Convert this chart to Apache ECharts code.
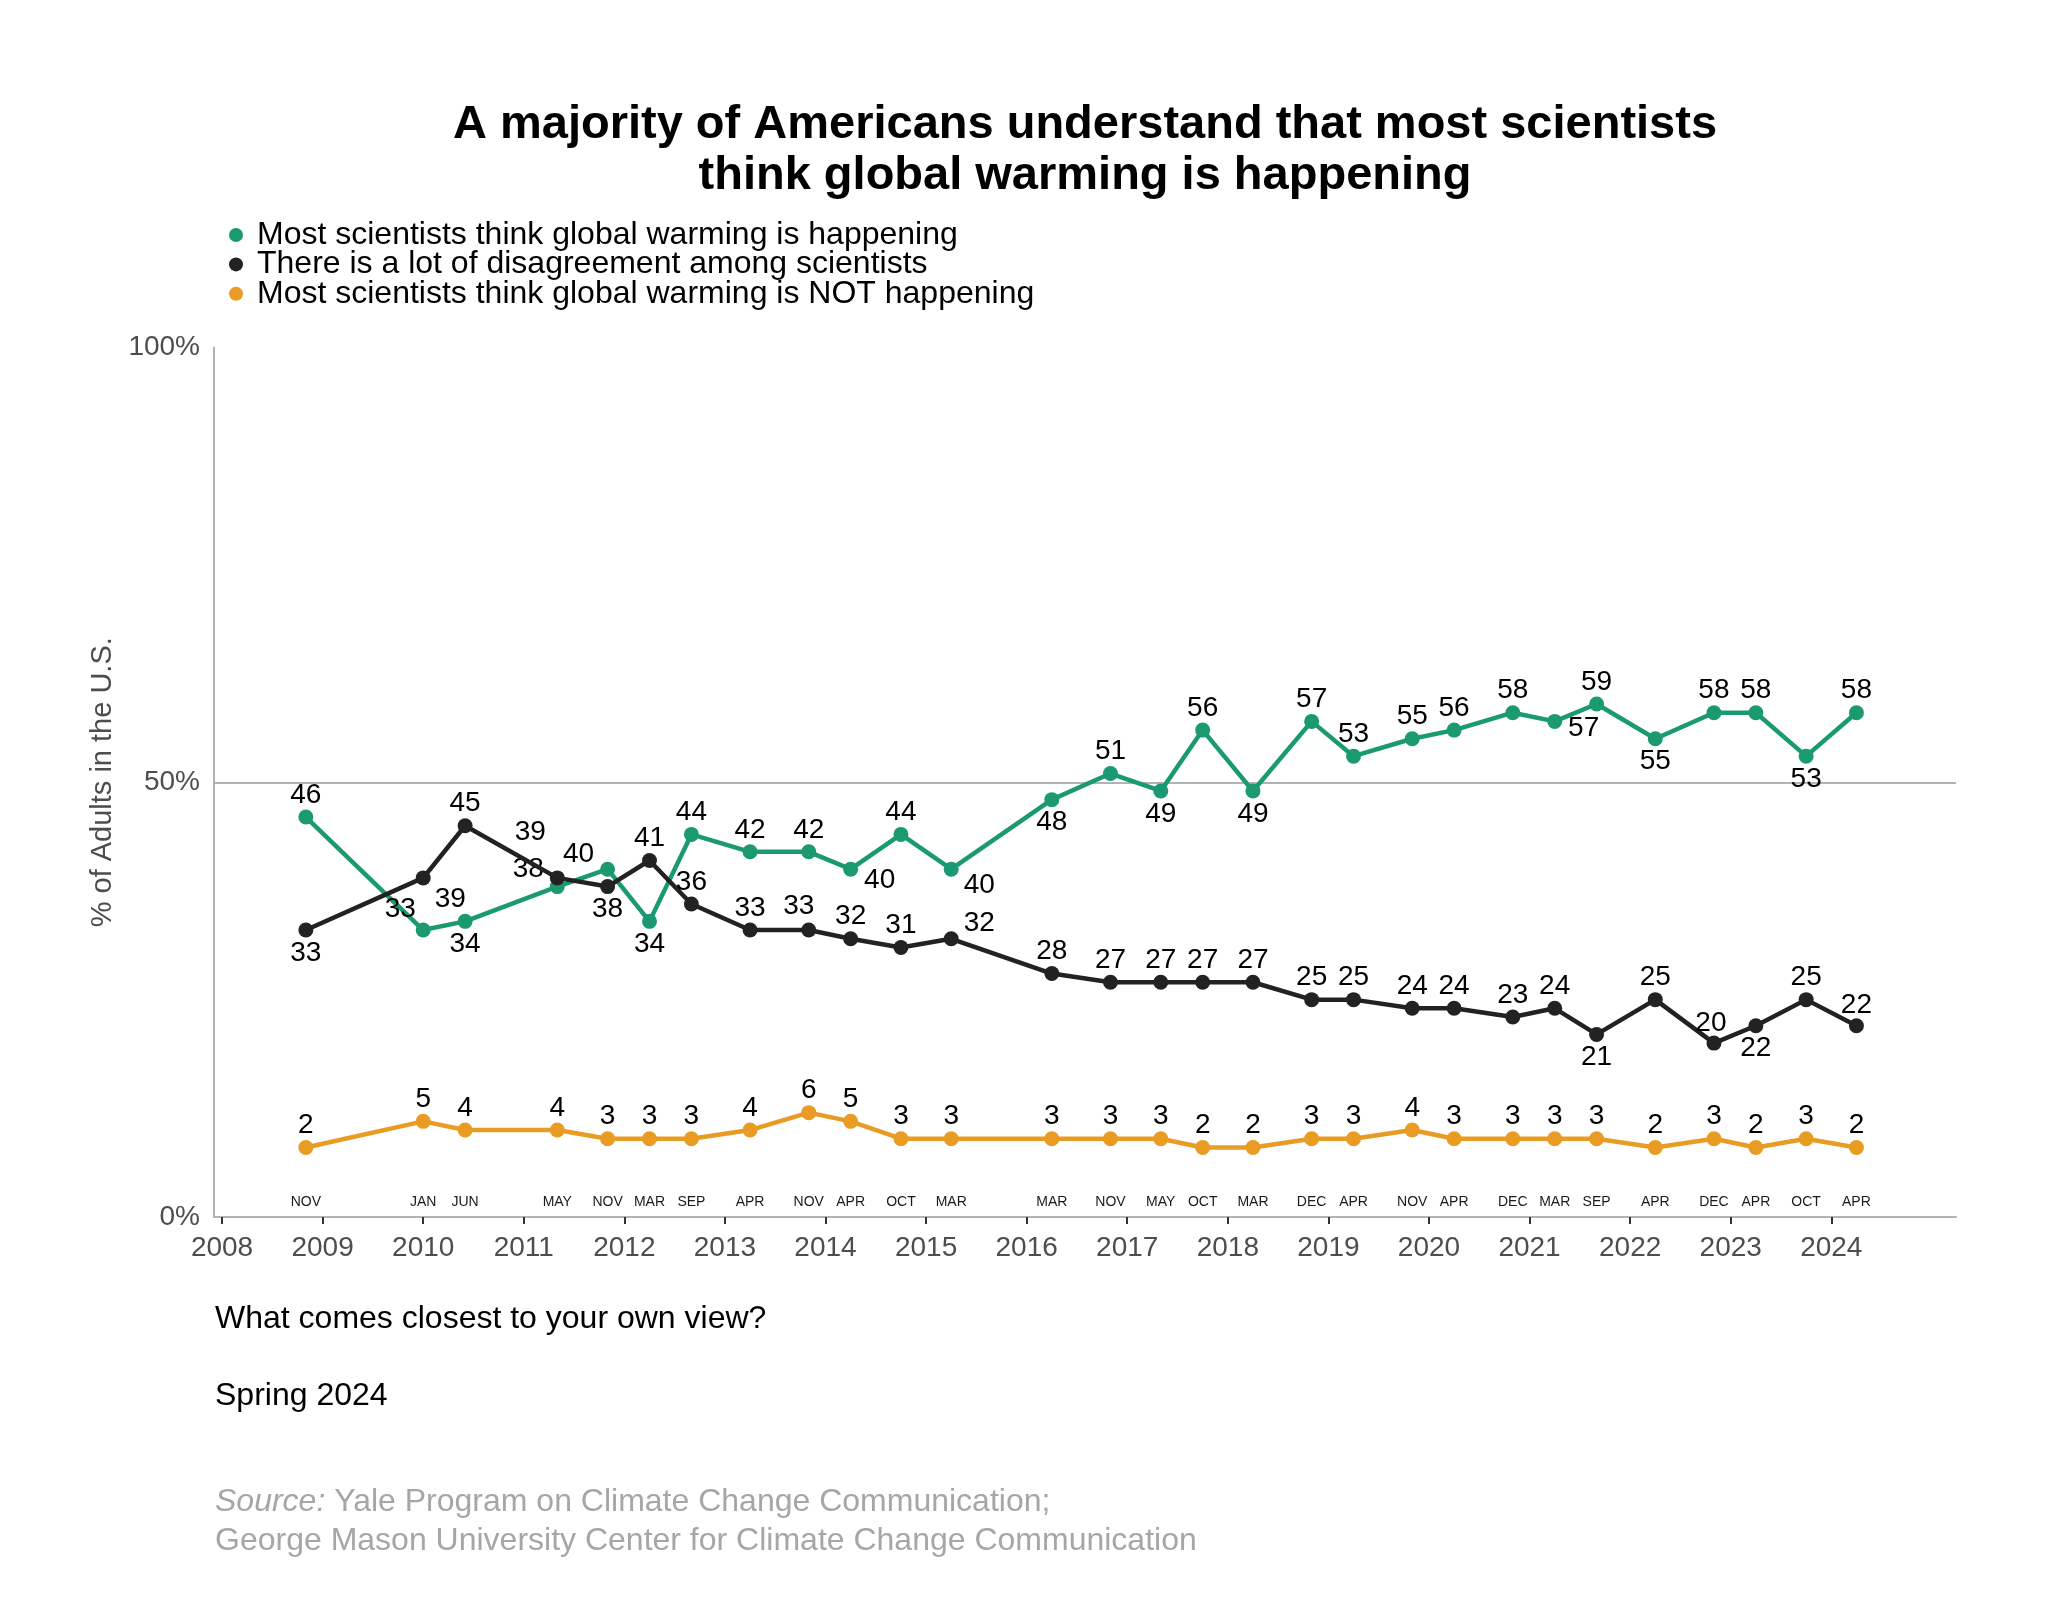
<!DOCTYPE html>
<html>
<head>
<meta charset="utf-8">
<script src="https://cdn.jsdelivr.net/npm/echarts@6/dist/echarts.min.js"></script>
<style>
html,body{margin:0;padding:0;background:#ffffff;}
#chart{width:2048px;height:1603px;}
</style>
</head>
<body>
<div id="chart"></div>
<script>
// ---------------- DATA ----------------
// where each survey sits on the time axis
const fieldDates = ['2008-11','2010-01','2010-06','2011-05','2011-11','2012-04','2012-09','2013-04','2013-11','2014-04','2014-10','2015-04','2016-04','2016-11','2017-05','2017-10','2018-04','2018-11','2019-04','2019-11','2020-04','2020-11','2021-04','2021-09','2022-04','2022-11','2023-04','2023-10','2024-04'];
// the month printed under each survey
const surveyMonths = ['NOV','JAN','JUN','MAY','NOV','MAR','SEP','APR','NOV','APR','OCT','MAR','MAR','NOV','MAY','OCT','MAR','DEC','APR','NOV','APR','DEC','MAR','SEP','APR','DEC','APR','OCT','APR'];
const happening    = [46,33,34,38,40,34,44,42,42,40,44,40,48,51,49,56,49,57,53,55,56,58,57,59,55,58,58,53,58];
const disagreement = [33,39,45,39,38,41,36,33,33,32,31,32,28,27,27,27,27,25,25,24,24,23,24,21,25,20,22,25,22];
const notHappening = [2,5,4,4,3,3,3,4,6,5,3,3,3,3,3,2,2,3,3,4,3,3,3,3,2,3,2,3,2];
const yearTicks = [2008,2009,2010,2011,2012,2013,2014,2015,2016,2017,2018,2019,2020,2021,2022,2023,2024];
const yTicks = [0,50,100];
const seriesNames = [
  'Most scientists think global warming is happening',
  'There is a lot of disagreement among scientists',
  'Most scientists think global warming is NOT happening'
];

// ---------------- STYLE / LAYOUT ----------------
const COLORS = ['#1b9a72', '#222222', '#e89c24'];
const FONT = '"Liberation Sans", Arial, Helvetica, sans-serif';
const X_MIN = 2007.92, X_MAX = 2025.24;
const NOT_HAPPENING_LIFT = 6; // the orange line is drawn lifted above the month labels
const T = [0,-22], B = [0,23];
const happeningLabelOffset = [T,[-23,-21],B,[-29,-17],[-29,-15],B,T,T,T,[29,11],T,[28,16],B,T,B,T,B,T,T,T,T,T,[29,7],T,B,T,T,B,T];
const disagreementLabelOffset = [B,[27,21],T,[-27,-46],B,T,T,T,[-10,-24],T,T,[28,-15],T,T,T,T,T,T,T,T,T,T,T,B,T,[-3,-20],B,T,[0,-20]];
const notHappeningLabelOffset = fieldDates.map(() => T);

// ---------------- BUILD ----------------
const dateValues = fieldDates.map(d => {
  const [y, m] = d.split('-').map(Number);
  return y + (m - 1) / 12;
});
function monthLabelFor(v) {
  for (let i = 0; i < dateValues.length; i++) {
    if (Math.abs(dateValues[i] - v) < 1e-6) return surveyMonths[i];
  }
  return '';
}

function makeSeries(idx, values, offsets, lift) {
  return {
    name: seriesNames[idx],
    type: 'line',
    xAxisIndex: 0,
    yAxisIndex: 0,
    data: values.map((v, i) => ({
      value: [dateValues[i], v + lift],
      label: { offset: offsets[i] }
    })),
    symbol: 'circle',
    symbolSize: 15,
    showSymbol: true,
    lineStyle: { color: COLORS[idx], width: 4.5 },
    itemStyle: { color: COLORS[idx] },
    z: 3 + idx,
    label: {
      show: true,
      position: 'inside',
      fontSize: 28,
      color: '#000000',
      fontFamily: FONT,
      formatter: p => String(values[p.dataIndex])
    },
    emphasis: { disabled: true },
    animation: false
  };
}

const seriesList = [
  makeSeries(0, happening, happeningLabelOffset, 0),
  makeSeries(1, disagreement, disagreementLabelOffset, 0),
  makeSeries(2, notHappening, notHappeningLabelOffset, NOT_HAPPENING_LIFT)
];
seriesList[0].markLine = {
  silent: true,
  z: 1,
  symbol: 'none',
  label: { show: false },
  lineStyle: { color: '#b3b3b3', type: 'solid', width: 2 },
  data: [{ yAxis: 50 }],
  animation: false
};

const chart = echarts.init(document.getElementById('chart'), null, { renderer: 'canvas' });
chart.setOption({
  backgroundColor: '#ffffff',
  animation: false,
  textStyle: { fontFamily: FONT },
  grid: { left: 214, right: 92, top: 347.5, bottom: 386, containLabel: false },
  legend: {
    orient: 'vertical',
    left: 224,
    top: 214,
    icon: 'circle',
    itemWidth: 32,
    itemHeight: 14,
    itemGap: -2.6,
    selectedMode: false,
    textStyle: { fontSize: 32, color: '#000000', lineHeight: 32, fontFamily: FONT },
    data: seriesNames
  },
  xAxis: [
    {
      type: 'value',
      min: X_MIN,
      max: X_MAX,
      position: 'bottom',
      axisLine: { show: true, onZero: false, lineStyle: { color: '#b3b3b3', width: 2 } },
      axisTick: { show: true, customValues: yearTicks, length: 7, lineStyle: { color: '#333333', width: 2 } },
      axisLabel: { customValues: yearTicks, fontSize: 28, color: '#4d4d4d', margin: 17, formatter: v => String(Math.round(v)) },
      splitLine: { show: false }
    },
    {
      type: 'value',
      min: X_MIN,
      max: X_MAX,
      position: 'bottom',
      axisLine: { show: false },
      axisTick: { show: false },
      splitLine: { show: false },
      axisLabel: { inside: true, customValues: dateValues, fontSize: 14, color: '#1a1a1a', margin: 8, formatter: v => monthLabelFor(v) }
    }
  ],
  yAxis: {
    type: 'value',
    min: 0,
    max: 100,
    interval: 50,
    axisLine: { show: true, lineStyle: { color: '#b3b3b3', width: 2 } },
    axisTick: { show: false },
    splitLine: { show: false },
    axisLabel: { customValues: yTicks, formatter: '{value}%', fontSize: 28, color: '#4d4d4d', margin: 14 },
    name: '% of Adults in the U.S.',
    nameLocation: 'middle',
    nameGap: 90,
    nameTextStyle: { fontSize: 29, color: '#4d4d4d', fontFamily: FONT }
  },
  graphic: [
    {
      type: 'text', x: 1085, y: 151,
      style: {
        text: 'A majority of Americans understand that most scientists\nthink global warming is happening',
        fontSize: 47, fontWeight: 'bold', fontFamily: FONT, fill: '#000000',
        align: 'center', verticalAlign: 'middle', lineHeight: 51
      }
    },
    {
      type: 'text', x: 215, y: 1319,
      style: { text: 'What comes closest to your own view?', fontSize: 32, fontFamily: FONT, fill: '#000000', align: 'left', verticalAlign: 'middle' }
    },
    {
      type: 'text', x: 215, y: 1396,
      style: { text: 'Spring 2024', fontSize: 32, fontFamily: FONT, fill: '#000000', align: 'left', verticalAlign: 'middle' }
    },
    {
      type: 'text', x: 215, y: 1502,
      style: {
        text: '{i|Source:} Yale Program on Climate Change Communication;',
        fontSize: 32, fontFamily: FONT, fill: '#a6a6a6', align: 'left', verticalAlign: 'middle',
        rich: { i: { fontStyle: 'italic', fontSize: 32, fontFamily: FONT, fill: '#a6a6a6' } }
      }
    },
    {
      type: 'text', x: 215, y: 1541,
      style: { text: 'George Mason University Center for Climate Change Communication', fontSize: 32, fontFamily: FONT, fill: '#a6a6a6', align: 'left', verticalAlign: 'middle' }
    }
  ],
  series: seriesList
});
</script>
</body>
</html>
